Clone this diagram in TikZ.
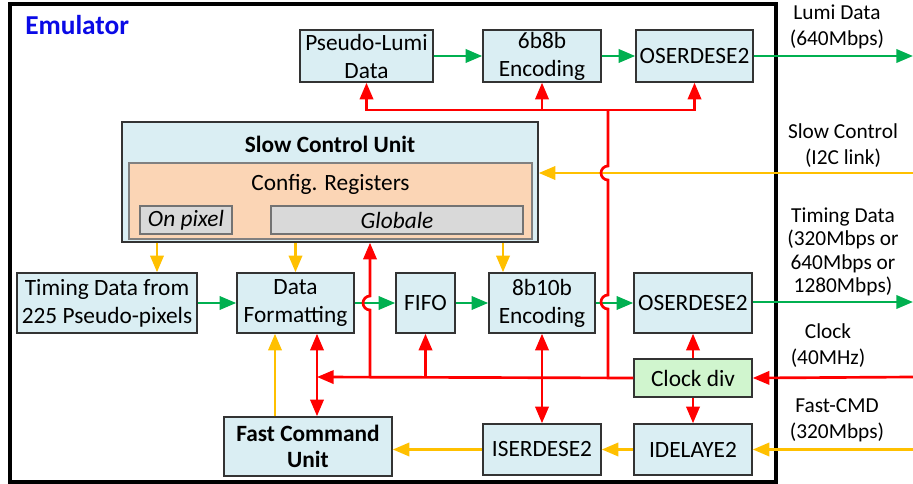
\documentclass[tikz,border=0pt]{standalone}
\usepackage{fontspec}
\setmainfont{Carlito}
\usetikzlibrary{arrows.meta}
\definecolor{boxblue}{HTML}{DAEEF3}
\definecolor{cfgpeach}{HTML}{FBD5B5}
\definecolor{reggray}{HTML}{D9D9D9}
\definecolor{clkgreen}{HTML}{D0F5CE}
\definecolor{sigred}{HTML}{FF0000}
\definecolor{siggreen}{HTML}{00B050}
\definecolor{sigyellow}{HTML}{FFC000}
\definecolor{emublue}{HTML}{0A0AE6}
\tikzset{ftip/.tip={Triangle[length=12.5pt,width=10pt]}}
\tikzset{blk/.style={draw=black!80, line width=1.1pt, fill=boxblue, inner sep=0pt, align=center, font=\fontsize{17.5}{21}\selectfont},
  reg/.style={draw=black!55, line width=0.8pt, fill=reggray, inner sep=0pt, font=\fontsize{17.5}{21}\selectfont\itshape},
  lbl/.style={align=center, inner sep=0pt, font=\fontsize{16}{19.5}\selectfont},
  gline/.style={siggreen, line width=2pt, -ftip},
  yline/.style={sigyellow, line width=2pt, -ftip},
  rline/.style={sigred, line width=2pt},
  rarrow/.style={rline, -ftip},
  rdarrow/.style={rline, ftip-ftip}}

\begin{document}
\begin{tikzpicture}[x=0.75pt,y=-0.75pt]
  \useasboundingbox (0,0) rectangle (913,484);
  \draw[line width=2.3pt] (10,4) rectangle (776,482);
  \node[anchor=west, inner sep=0pt, text=emublue, font=\fontsize{20.5}{24}\selectfont\bfseries] (emu) at (25,25) {Emulator};

  \node[blk, minimum width=99.75pt, minimum height=39pt] (plumi) at (366.5,56) {Pseudo-Lumi\\Data};
  \node[blk, minimum width=88.5pt, minimum height=39pt] (enc6) at (542,56) {6b8b\\Encoding};
  \node[blk, minimum width=87.75pt, minimum height=39pt] (osera) at (694.5,56) {OSERDESE2};

  \node[blk, minimum width=312pt, minimum height=90pt] (scu) at (330,182) {};
  \node[inner sep=0pt, font=\fontsize{17.5}{21}\selectfont\bfseries] (scutitle) at (330,144) {Slow Control Unit};
  \node[draw=black!50, line width=0.8pt, fill=cfgpeach, minimum width=302.25pt, minimum height=57pt] (cfg) at (330.5,201) {};
  \node[inner sep=0pt, font=\fontsize{17.5}{21}\selectfont] (cfgtitle) at (330.5,184) {Config. Registers};
  \node[reg, minimum width=69pt, minimum height=21pt] (onpix) at (186,220) {On pixel};
  \node[reg, minimum width=189pt, minimum height=21pt] (glob) at (397,220) {Globale};

  \node[blk, minimum width=135pt, minimum height=45pt] (tdata) at (107,303) {Timing Data from\\225 Pseudo-pixels};
  \node[blk, minimum width=87.75pt, minimum height=45pt] (dfmt) at (295.5,303) {Data\\Formatting};
  \node[blk, minimum width=44.25pt, minimum height=45pt] (fifo) at (425.5,303) {FIFO};
  \node[blk, minimum width=79.5pt, minimum height=45pt] (enc8) at (542,303) {8b10b\\Encoding};
  \node[blk, minimum width=88.5pt, minimum height=45pt] (oserb) at (693,303) {OSERDESE2};
  \node[blk, fill=clkgreen, minimum width=88.5pt, minimum height=28.5pt] (clkdiv) at (693,378) {Clock div};
  \node[blk, minimum width=88.5pt, minimum height=38.25pt] (iser) at (542,449.5) {ISERDESE2};
  \node[blk, minimum width=88.5pt, minimum height=38.25pt] (idel) at (693,449.5) {IDELAYE2};
  \node[blk, minimum width=126pt, minimum height=44.25pt, font=\fontsize{17.5}{19.5}\selectfont\bfseries] (fcu) at (308,446.5) {Fast Command\\Unit};

  \node[lbl] (lumilbl) at (837,26.5) {Lumi Data\\(640Mbps)};
  \node[lbl] (scllbl) at (843,146) {Slow Control\\(I2C link)};
  \node[lbl, font=\fontsize{16}{17.5}\selectfont] (timlbl) at (843,252) {Timing Data\\(320Mbps or\\640Mbps or\\1280Mbps)};
  \node[lbl] (clklbl) at (828,345.5) {Clock\\(40MHz)};
  \node[lbl] (fclbl) at (837,420) {Fast-CMD\\(320Mbps)};

  \coordinate (lumiout) at (913,56);
  \coordinate (timout) at (913,302);
  \coordinate (sclin) at (913,173);
  \coordinate (clkin) at (913,377);
  \coordinate (fcin) at (913,449.5);
  \coordinate (busj) at (608,110);
  \coordinate (clkj) at (608,377);
  \coordinate (clkend) at (317,377);

  \draw[gline] (plumi) -- (enc6);
  \draw[gline] (enc6) -- (osera);
  \draw[gline] (osera.east) -- (lumiout);
  \draw[gline] (tdata) -- (dfmt);
  \draw[gline] (dfmt) -- (fifo);
  \draw[gline] (fifo) -- (enc8);
  \draw[gline] (enc8) -- (oserb);
  \draw[gline] (oserb.east |- timout) -- (timout);

  \draw[yline] (sclin) -- (sclin -| scu.east);
  \draw[yline] (scu.south -| 157,0) -- (tdata.north -| 157,0);
  \draw[yline] (scu.south -| dfmt.north) -- (dfmt.north);
  \draw[yline] (scu.south -| 503,0) -- (enc8.north -| 503,0);
  \draw[yline] (fcin) -- (idel.east);
  \draw[yline] (idel.west) -- (iser.east);
  \draw[yline] (iser.west) -- (iser.west -| fcu.east);
  \draw[yline] (fcu.north -| 275,0) -- (dfmt.south -| 275,0);

  \draw[rarrow] (busj) -| (plumi.south);
  \draw[rarrow] (busj) -| (enc6.south);
  \draw[rarrow] (busj) -| (osera.south);
  \draw[rline] (busj) -- (608,166) arc[start angle=270, end angle=90, radius=7]
    -- (608,295) arc[start angle=270, end angle=90, radius=7] -- (clkj);
  \draw[rarrow] (clkin) -- (clkdiv.east);
  \draw[rarrow] (clkdiv.west) -- (clkend);
  \draw[rarrow] (370,377) -- (370,310) arc[start angle=90, end angle=270, radius=7] -- (scu.south -| 370,0);
  \draw[rarrow] (fifo.south |- clkend) -- (fifo.south);
  \draw[rdarrow] (dfmt.south -| clkend) -- (fcu.north -| clkend);
  \draw[rdarrow] (enc8.south) -- (iser.north);
  \draw[rarrow] (clkdiv.north) -- (oserb.south);
  \draw[rarrow] (clkdiv.south) -- (idel.north);
\end{tikzpicture}
\end{document}
